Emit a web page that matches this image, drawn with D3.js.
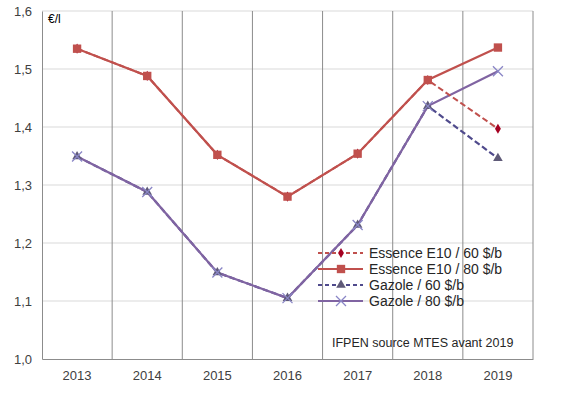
<!DOCTYPE html>
<html>
<head>
<meta charset="utf-8">
<script src="https://cdn.jsdelivr.net/npm/d3@7"></script>
<style>
  body { margin: 0; background: #fff; }
  text { font-family: "Liberation Sans", Arial, sans-serif; }
</style>
</head>
<body>
<div id="chart"></div>
<script>
// data
var years = ["2013", "2014", "2015", "2016", "2017", "2018", "2019"];
var essence60 = [1.535, 1.488, 1.352, 1.280, 1.354, 1.481, 1.397];
var essence80 = [1.535, 1.488, 1.352, 1.280, 1.354, 1.481, 1.537];
var gazole60 = [1.349, 1.288, 1.149, 1.105, 1.231, 1.436, 1.346];
var gazole80 = [1.349, 1.288, 1.149, 1.105, 1.231, 1.436, 1.496];
var yTicks = [1.0, 1.1, 1.2, 1.3, 1.4, 1.5, 1.6];
var seriesNames = ["Essence E10 / 60 $/b", "Essence E10 / 80 $/b", "Gazole / 60 $/b", "Gazole / 80 $/b"];

var svgWidth = 561;
var svgHeight = 396;
var margin = { top: 11, right: 28, bottom: 37, left: 42 };
var width = svgWidth - margin.left - margin.right;
var height = svgHeight - margin.top - margin.bottom;

var svg = d3.select("#chart").append("svg")
  .attr("width", svgWidth)
  .attr("height", svgHeight);

var g = svg.append("g")
  .attr("transform", `translate(${margin.left}, ${margin.top})`);

var x = d3.scaleBand().domain(years).range([0, width]);
var y = d3.scaleLinear().domain([1.0, 1.6]).range([height, 0]);
var fmt = d => d3.format(".1f")(d).replace(".", ",");

// horizontal gridlines
g.selectAll(".hgrid")
  .data(yTicks.slice(1))
  .enter().append("line")
  .attr("x1", 0).attr("x2", width)
  .attr("y1", d => y(d)).attr("y2", d => y(d))
  .attr("stroke", "#d9d9d9");

// vertical gridlines at band edges
g.selectAll(".vgrid")
  .data(years.slice(1).concat(["end"]))
  .enter().append("line")
  .attr("x1", (d, i) => x.step() * (i + 1)).attr("x2", (d, i) => x.step() * (i + 1))
  .attr("y1", 0).attr("y2", height)
  .attr("stroke", "#8c8c8c");

// axes
var xAxis = g.append("g")
  .attr("transform", `translate(0,${height})`)
  .call(d3.axisBottom(x).tickSize(0).tickPadding(12));
var yAxis = g.append("g")
  .call(d3.axisLeft(y).tickValues(yTicks).tickFormat(fmt).tickSize(0).tickPadding(10));
[xAxis, yAxis].forEach(a => {
  a.select(".domain").attr("stroke", "#8c8c8c");
  a.selectAll("text").attr("font-size", "13px").attr("fill", "#404040")
    .attr("font-family", "Liberation Sans, Arial, sans-serif");
});
yAxis.selectAll("text").attr("dy", "0.35em");

g.append("text")
  .attr("x", 6).attr("y", 12)
  .attr("font-size", "12px").attr("fill", "#000")
  .text("€/l");

var cx = (d, i) => x(years[i]) + x.bandwidth() / 2;
var line = d3.line().x(cx).y(d => y(d));

// gazole 60 (dashed, underneath)
g.append("path").datum(gazole60)
  .attr("d", line).attr("fill", "none")
  .attr("stroke", "#4f4a8c").attr("stroke-width", 2.2).attr("stroke-dasharray", "6,3");
// gazole 80
g.append("path").datum(gazole80)
  .attr("d", line).attr("fill", "none")
  .attr("stroke", "#8064a2").attr("stroke-width", 2.2);
// essence 60
g.append("path").datum(essence60)
  .attr("d", line).attr("fill", "none")
  .attr("stroke", "#c0504d").attr("stroke-width", 2).attr("stroke-dasharray", "6,3");
// essence 80
g.append("path").datum(essence80)
  .attr("d", line).attr("fill", "none")
  .attr("stroke", "#c0504d").attr("stroke-width", 2.2);

// markers
function drawMarkers(data, kind) {
  var sel = g.append("g").selectAll("path").data(data).enter().append("path")
    .attr("transform", (d, i) => `translate(${cx(d, i)},${y(d)})`);
  styleMarker(sel, kind);
}
function styleMarker(sel, kind) {
  if (kind === "diamond") {
    sel.attr("d", d3.symbol().type(d3.symbolDiamond).size(30)).attr("fill", "#a50021");
  } else if (kind === "square") {
    sel.attr("d", d3.symbol().type(d3.symbolSquare).size(70)).attr("fill", "#c0504d");
  } else if (kind === "triangle") {
    sel.attr("d", d3.symbol().type(d3.symbolTriangle).size(40)).attr("fill", "#5f5a78");
  } else {
    sel.attr("d", "M-5,-5L5,5M-5,5L5,-5").attr("fill", "none")
      .attr("stroke", "#8a86c6").attr("stroke-width", 1.3);
  }
}
drawMarkers(gazole60, "triangle");
drawMarkers(gazole80, "cross");
drawMarkers(essence60, "diamond");
drawMarkers(essence80, "square");

// legend
var legendKinds = [
  { kind: "diamond", color: "#c0504d", dash: "4,3" },
  { kind: "square", color: "#c0504d", dash: null },
  { kind: "triangle", color: "#4f4a8c", dash: "4,3" },
  { kind: "cross", color: "#8064a2", dash: null }
];
var legend = svg.append("g").attr("transform", "translate(318,253)");
seriesNames.forEach(function(name, i) {
  var row = legend.append("g").attr("transform", `translate(0,${i * 16})`);
  row.append("line")
    .attr("x1", 0).attr("x2", 45).attr("y1", 0).attr("y2", 0)
    .attr("stroke", legendKinds[i].color).attr("stroke-width", 2)
    .attr("stroke-dasharray", legendKinds[i].dash);
  var m = row.append("path").attr("transform", "translate(23,0)");
  styleMarker(m, legendKinds[i].kind);
  row.append("text")
    .attr("x", 51).attr("y", 0).attr("dy", "0.35em")
    .attr("font-size", "14px").attr("fill", "#262626")
    .text(name);
});

svg.append("text")
  .attr("x", 332).attr("y", 347)
  .attr("font-size", "12.5px").attr("fill", "#262626")
  .text("IFPEN source  MTES avant 2019");
</script>
</body>
</html>
